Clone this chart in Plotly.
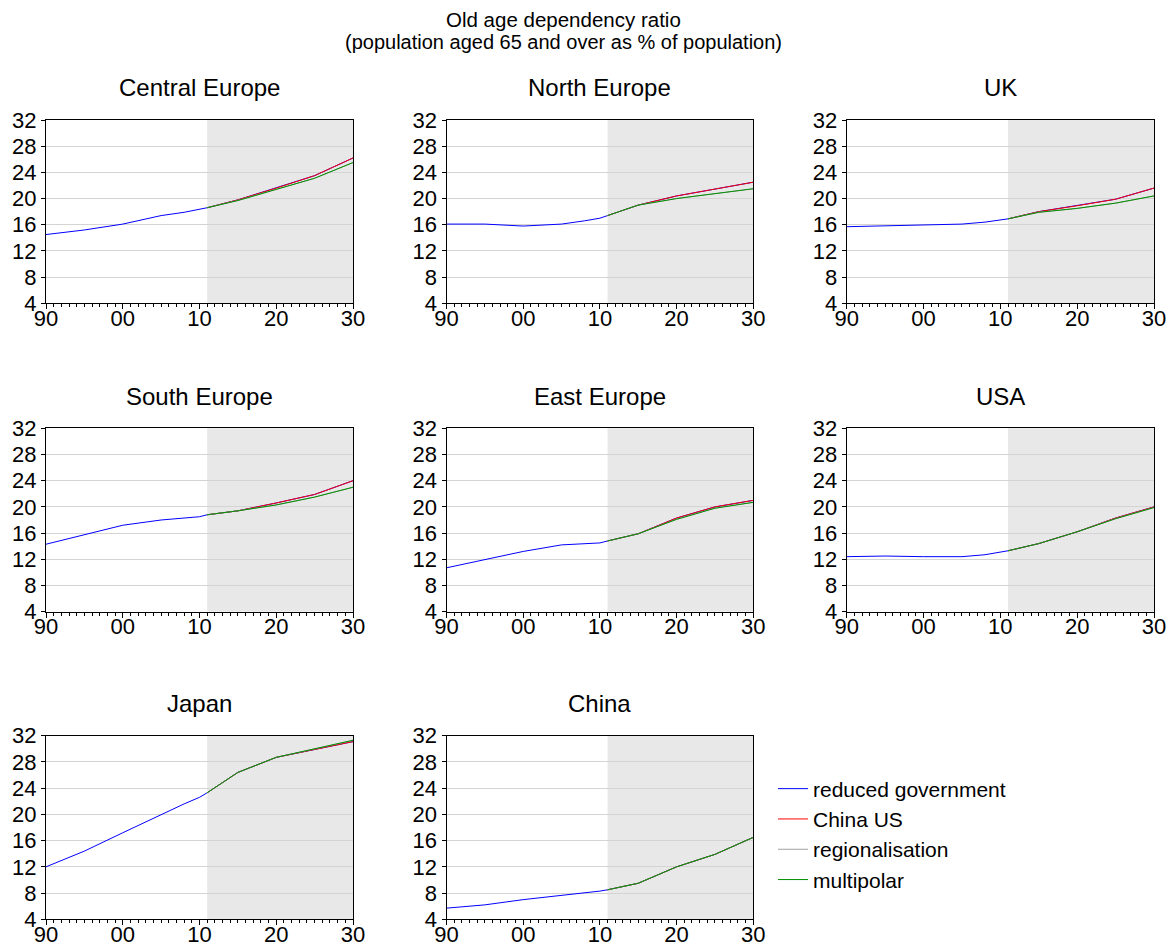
import plotly.graph_objects as go

# ---------------- data ----------------
regions = ["Central Europe", "North Europe", "UK", "South Europe",
           "East Europe", "USA", "Japan", "China"]

hist_years = [1990, 1995, 2000, 2005, 2008, 2010, 2011]
proj_years = [2011, 2015, 2020, 2025, 2030]

# historical (reduced government line, shared by all scenarios)
hist = {
    "Central Europe": [14.5, 15.2, 16.1, 17.4, 17.9, 18.3, 18.6],
    "North Europe":   [16.1, 16.1, 15.8, 16.1, 16.6, 17.0, 17.4],
    "UK":             [15.7, 15.8, 15.9, 16.1, 16.4, 16.7, 16.9],
    "South Europe":   [14.3, 15.8, 17.2, 18.0, 18.3, 18.5, 18.8],
    "East Europe":    [10.7, 11.9, 13.2, 14.2, 14.4, 14.5, 14.8],
    "USA":            [12.4, 12.5, 12.4, 12.4, 12.7, 13.1, 13.3],
    "Japan":          [12.0, 14.4, 17.2, 20.0, 21.6, 22.6, 23.3],
    "China":          [5.7, 6.2, 7.0, 7.6, 8.0, 8.3, 8.5],
}

# projections 2011-2030
china_us = {
    "Central Europe": [18.6, 19.8, 21.6, 23.5, 26.2],
    "North Europe":   [17.4, 19.0, 20.4, 21.4, 22.5],
    "UK":             [16.9, 18.0, 18.9, 19.9, 21.6],
    "South Europe":   [18.8, 19.4, 20.6, 21.9, 24.0],
    "East Europe":    [14.8, 15.9, 18.3, 20.0, 21.0],
    "USA":            [13.3, 14.4, 16.2, 18.3, 20.0],
    "Japan":          [23.3, 26.4, 28.7, 29.9, 31.1],
    "China":          [8.5, 9.5, 12.0, 13.9, 16.5],
}
reduced_gov_proj = {k: list(v) for k, v in china_us.items()}
multipolar = {
    "Central Europe": [18.6, 19.7, 21.4, 23.1, 25.5],
    "North Europe":   [17.4, 19.0, 20.0, 20.8, 21.5],
    "UK":             [16.9, 17.9, 18.5, 19.3, 20.4],
    "South Europe":   [18.8, 19.4, 20.3, 21.5, 23.0],
    "East Europe":    [14.8, 15.9, 18.1, 19.8, 20.7],
    "USA":            [13.3, 14.4, 16.2, 18.2, 19.9],
    "Japan":          [23.3, 26.4, 28.7, 30.0, 31.3],
    "China":          [8.5, 9.5, 12.0, 13.9, 16.5],
}
regionalisation = {k: list(v) for k, v in multipolar.items()}

series_names = ["reduced government", "China US", "regionalisation", "multipolar"]
series_colors = ["#0000ff", "#ff0000", "#a0a0a0", "#009000"]

y_ticks = [4, 8, 12, 16, 20, 24, 28, 32]
x_tick_vals = [1990, 2000, 2010, 2020, 2030]
x_tick_text = ["90", "00", "10", "20", "30"]

title_line1 = "Old age dependency ratio"
title_line2 = "(population aged 65 and over as % of population)"

# ---------------- layout geometry (px) ----------------
W, H = 1168, 950
col_px = [(46, 353), (446.5, 753.3), (846.7, 1154)]
row_px = [(120, 303.3), (428.3, 611.7), (735.7, 919.3)]

FONT = "Liberation Sans, Arial, sans-serif"

fig = go.Figure()
layout = dict(
    width=W, height=H, autosize=False,
    margin=dict(l=0, r=0, t=0, b=0, pad=0, autoexpand=False),
    paper_bgcolor="white", plot_bgcolor="white",
    font=dict(family=FONT, color="black", size=22),
    showlegend=True,
    legend=dict(x=773 / W, y=1 - 768.5 / H, xanchor="left", yanchor="top",
                font=dict(size=21, family=FONT), bgcolor="rgba(0,0,0,0)",
                tracegroupgap=0, itemwidth=30),
)
shapes = []
annotations = []

for i, reg in enumerate(regions):
    r, c = divmod(i, 3)
    n = i + 1
    xa = "xaxis" if n == 1 else f"xaxis{n}"
    ya = "yaxis" if n == 1 else f"yaxis{n}"
    xr = "x" if n == 1 else f"x{n}"
    yr = "y" if n == 1 else f"y{n}"
    x0, x1 = col_px[c]
    y0, y1 = row_px[r]
    layout[xa] = dict(
        domain=[x0 / W, x1 / W], anchor=yr, range=[1990, 2030],
        tickvals=x_tick_vals, ticktext=x_tick_text,
        ticks="outside", ticklen=5, tickcolor="black", tickwidth=1,
        minor=dict(dtick=1, tick0=1990, ticks="outside", ticklen=3,
                   tickcolor="black", tickwidth=1, showgrid=False),
        showgrid=False, zeroline=False,
        showline=True, linecolor="black", linewidth=1, mirror=True,
        tickfont=dict(size=22, family=FONT), fixedrange=True, automargin=False,
        ticklabelstandoff=-10,
    )
    layout[ya] = dict(
        domain=[1 - y1 / H, 1 - y0 / H], anchor=xr, range=[4, 32],
        tickvals=y_ticks, ticks="outside", ticklen=4, tickcolor="black",
        showgrid=True, gridcolor="#d4d4d4", gridwidth=1, zeroline=False,
        showline=True, linecolor="black", linewidth=1, mirror=True,
        tickfont=dict(size=22, family=FONT), fixedrange=True, automargin=False,
    )
    shapes.append(dict(type="rect", xref=xr, yref=f"{yr} domain",
                       x0=2011, x1=2030, y0=0, y1=1,
                       fillcolor="#e8e8e8", line=dict(width=0), layer="below"))
    annotations.append(dict(text=reg, xref="paper", yref="paper",
                            x=(x0 + x1) / 2 / W, y=1 - (y0 - 32) / H,
                            xanchor="center", yanchor="middle", showarrow=False,
                            font=dict(size=24, family=FONT)))

    data_sets = [
        (hist_years + proj_years[1:], hist[reg] + reduced_gov_proj[reg][1:]),
        (proj_years, china_us[reg]),
        (proj_years, regionalisation[reg]),
        (proj_years, multipolar[reg]),
    ]
    for k, (xs, ys) in enumerate(data_sets):
        fig.add_trace(go.Scatter(
            x=xs, y=ys, mode="lines", name=series_names[k],
            line=dict(color=series_colors[k], width=1),
            xaxis=xr, yaxis=yr, showlegend=(i == 0), legendgroup=series_names[k],
            hoverinfo="skip"))

annotations.append(dict(text=title_line1, xref="paper", yref="paper",
                        x=563 / W, y=1 - 20 / H, xanchor="center", yanchor="middle",
                        showarrow=False, font=dict(size=20.5, family=FONT)))
annotations.append(dict(text=title_line2, xref="paper", yref="paper",
                        x=563 / W, y=1 - 41.7 / H, xanchor="center", yanchor="middle",
                        showarrow=False, font=dict(size=20, family=FONT)))

layout["shapes"] = shapes
layout["annotations"] = annotations
fig.update_layout(**layout)
fig.write_html(
    "out.html",
    config={"displayModeBar": False},
    post_script="document.body.style.margin='0';document.body.style.overflow='hidden';",
)
